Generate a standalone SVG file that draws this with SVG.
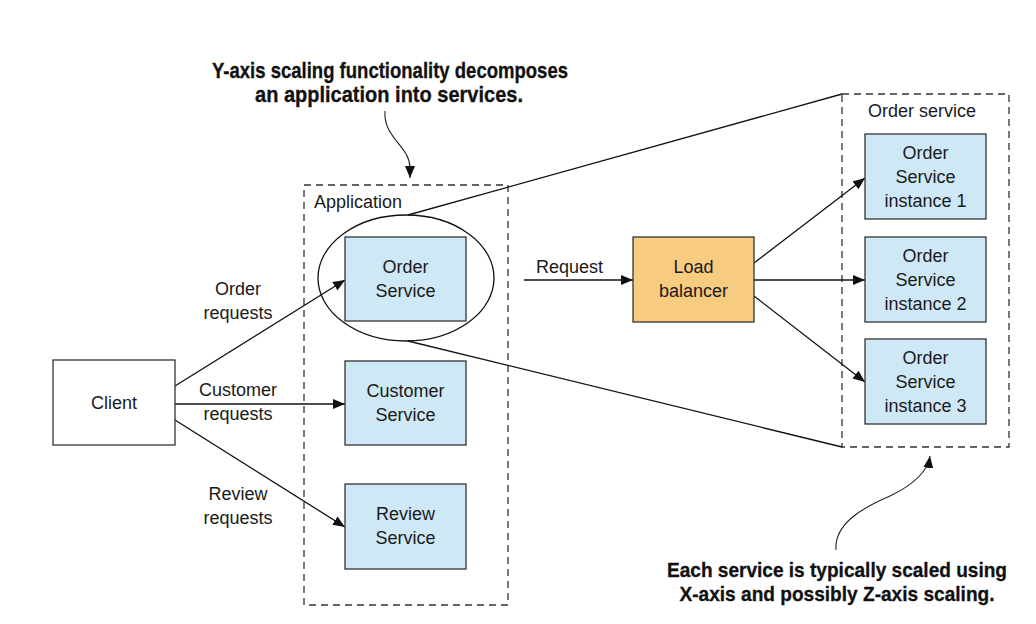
<svg xmlns="http://www.w3.org/2000/svg" width="1036" height="624" viewBox="0 0 1036 624">
<style>
.t{font-family:"Liberation Sans",Arial,sans-serif;font-size:18px;fill:#1a1a1a}
.c{text-anchor:middle}
.b{font-family:"Liberation Sans",Arial,sans-serif;font-weight:bold;font-size:21.5px;fill:#111;stroke:#111;stroke-width:0.3;text-anchor:middle}
.b2{font-size:20.5px}
.svc{fill:#cfe8f6;stroke:#333;stroke-width:1.3}
.lb{fill:#f7cb80;stroke:#333;stroke-width:1.3}
.plain{fill:#fff;stroke:#333;stroke-width:1.3}
.dash{fill:none;stroke:#333;stroke-width:1.3;stroke-dasharray:7 5}
.ln{fill:none;stroke:#111;stroke-width:1.3}
.arr{fill:none;stroke:#111;stroke-width:1.3;marker-end:url(#ah)}
.carr{fill:none;stroke:#222;stroke-width:1.1;marker-end:url(#ah)}
</style>
<defs>
<marker id="ah" viewBox="0 0 12 10" refX="12" refY="5" markerWidth="12" markerHeight="10" markerUnits="userSpaceOnUse" orient="auto">
<path d="M0,0 L12,5 L0,10 z" fill="#111"/>
</marker>
</defs>
<rect width="1036" height="624" fill="#fff"/>

<g id="application">
<rect class="dash" x="304" y="185" width="204" height="420"/>
<text class="t" x="314" y="208">Application</text>
</g>

<g id="order-service-group">
<rect class="dash" x="842" y="94" width="167" height="353"/>
<text class="t" x="868" y="117">Order service</text>
</g>

<g id="connectors">
<path class="ln" d="M408,215 L842,94"/>
<path class="ln" d="M408,341 L842,447"/>
<path class="arr" d="M175,386 L345,280"/>
<path class="arr" d="M175,404 L345,404"/>
<path class="arr" d="M175,420 L345,527"/>
<path class="arr" d="M524,280 L633,280"/>
<path class="arr" d="M754,263 L865,178"/>
<path class="arr" d="M754,280 L865,280"/>
<path class="arr" d="M754,296 L865,382"/>
<path class="carr" d="M385,111 C383,138 410,146 410,168 L410,178"/>
<path class="carr" d="M836,550 C834,524 862,508 890,496 C915,484 928,470 930,456"/>
<text class="t c" x="238" y="295">Order</text>
<text class="t c" x="238" y="319">requests</text>
<text class="t c" x="238" y="396">Customer</text>
<text class="t c" x="238" y="420">requests</text>
<text class="t c" x="238" y="500">Review</text>
<text class="t c" x="238" y="524">requests</text>
<text class="t" x="536" y="273">Request</text>
</g>

<g id="ellipse">
<ellipse class="ln" cx="406" cy="278" rx="88" ry="63"/>
</g>

<g id="client">
<rect class="plain" x="53" y="360" width="122" height="85"/>
<text class="t c" x="114" y="409">Client</text>
</g>

<g id="order-service">
<rect class="svc" x="345" y="237" width="121" height="84"/>
<text class="t c" x="405.5" y="273">Order</text>
<text class="t c" x="405.5" y="297">Service</text>
</g>

<g id="customer-service">
<rect class="svc" x="345" y="361" width="121" height="84"/>
<text class="t c" x="405.5" y="397">Customer</text>
<text class="t c" x="405.5" y="421">Service</text>
</g>

<g id="review-service">
<rect class="svc" x="345" y="484" width="121" height="85"/>
<text class="t c" x="405.5" y="520">Review</text>
<text class="t c" x="405.5" y="544">Service</text>
</g>

<g id="load-balancer">
<rect class="lb" x="633" y="237" width="121" height="85"/>
<text class="t c" x="693.5" y="273">Load</text>
<text class="t c" x="693.5" y="297">balancer</text>
</g>

<g id="instance-1">
<rect class="svc" x="865" y="134" width="121" height="85"/>
<text class="t c" x="925.5" y="159">Order</text>
<text class="t c" x="925.5" y="183">Service</text>
<text class="t c" x="925.5" y="207">instance 1</text>
</g>

<g id="instance-2">
<rect class="svc" x="865" y="237" width="121" height="85"/>
<text class="t c" x="925.5" y="262">Order</text>
<text class="t c" x="925.5" y="286">Service</text>
<text class="t c" x="925.5" y="310">instance 2</text>
</g>

<g id="instance-3">
<rect class="svc" x="865" y="339" width="121" height="85"/>
<text class="t c" x="925.5" y="364">Order</text>
<text class="t c" x="925.5" y="388">Service</text>
<text class="t c" x="925.5" y="412">instance 3</text>
</g>

<g id="callout-y">
<text class="b" x="390" y="78" textLength="356" lengthAdjust="spacingAndGlyphs">Y-axis scaling functionality decomposes</text>
<text class="b" x="389" y="102" textLength="268" lengthAdjust="spacingAndGlyphs">an application into services.</text>
</g>

<g id="callout-x">
<text class="b b2" x="837" y="577" textLength="340" lengthAdjust="spacingAndGlyphs">Each service is typically scaled using</text>
<text class="b b2" x="837" y="601" textLength="315" lengthAdjust="spacingAndGlyphs">X-axis and possibly Z-axis scaling.</text>
</g>
</svg>
